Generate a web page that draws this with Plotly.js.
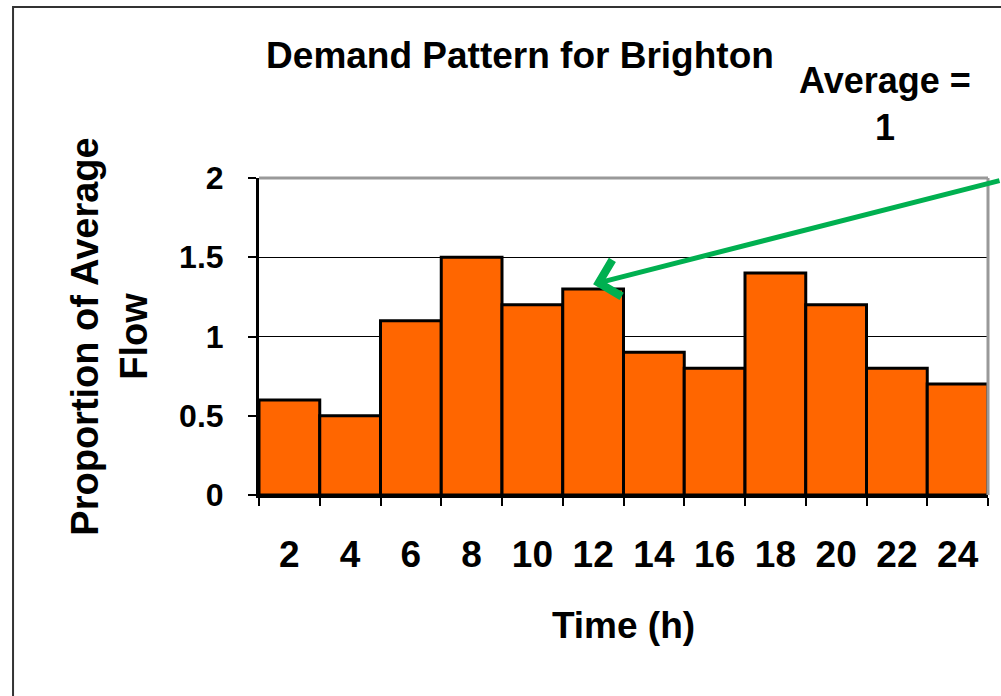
<!DOCTYPE html>
<html>
<head>
<meta charset="utf-8">
<script src="https://cdn.plot.ly/plotly-3.0.1.min.js"></script>
<style>
  html, body { margin: 0; padding: 0; background: #ffffff; }
  #chart { width: 1001px; height: 696px; }
</style>
</head>
<body>
<div id="chart"></div>
<script>
// Hourly demand pattern, two-hour blocks
const hours = ['2', '4', '6', '8', '10', '12', '14', '16', '18', '20', '22', '24'];
const proportion = [0.6, 0.5, 1.1, 1.5, 1.2, 1.3, 0.9, 0.8, 1.4, 1.2, 0.8, 0.7];
const yTicks = [0, 0.5, 1, 1.5, 2];
const yTickText = ['0', '0.5', '1', '1.5', '2'];

// The arrow points at the top of the noon block
const pointedHour = '12';
const pointedValue = 1.33;

const FONT = 'Liberation Sans, Arial, sans-serif';
const bold = (size) => ({ family: FONT, size: size, color: '#000000', weight: 'bold' });

const trace = {
  type: 'bar',
  x: hours,
  y: proportion,
  marker: { color: '#FF6600', line: { color: '#000000', width: 3 } },
  hoverinfo: 'x+y'
};

const layout = {
  width: 1001,
  height: 696,
  margin: { l: 259, r: 13, t: 178, b: 201, pad: 0 },
  paper_bgcolor: '#ffffff',
  plot_bgcolor: '#ffffff',
  showlegend: false,
  bargap: 0,
  title: {
    text: 'Demand Pattern for Brighton',
    font: bold(37),
    x: 0.358, xref: 'paper', xanchor: 'center',
    y: 0.921, yref: 'container', yanchor: 'middle'
  },
  xaxis: {
    type: 'category',
    range: [-0.5, 11.5],
    tickson: 'boundaries',
    ticks: 'outside', ticklen: 8, tickwidth: 2, tickcolor: '#000000',
    showline: true, linecolor: '#000000', linewidth: 3,
    showgrid: false, zeroline: false,
    tickfont: bold(37),
    ticklabelstandoff: 25,
    title: { text: 'Time (h)', font: bold(37), standoff: 38 },
    fixedrange: true
  },
  yaxis: {
    range: [0, 2],
    tickvals: yTicks,
    ticktext: yTickText,
    ticks: 'outside', ticklen: 8, tickwidth: 2, tickcolor: '#000000',
    showline: true, linecolor: '#000000', linewidth: 3,
    showgrid: true, gridcolor: '#000000', gridwidth: 1.5,
    zeroline: false,
    tickfont: bold(32),
    ticklabelstandoff: 18,
    title: { text: 'Proportion of Average<br>Flow', font: bold(38), standoff: 20 },
    fixedrange: true
  },
  shapes: [
    // grey frame along top and right of the plot area
    { type: 'line', xref: 'paper', yref: 'paper', x0: 0, x1: 1, y0: 1, y1: 1,
      line: { color: '#999999', width: 3 }, layer: 'above' },
    { type: 'line', xref: 'paper', yref: 'paper', x0: 1, x1: 1, y0: 0, y1: 1,
      line: { color: '#999999', width: 3 }, layer: 'above' },
    // outer chart border
    { type: 'rect', xref: 'paper', yref: 'paper',
      x0: -0.3374, x1: 1.06, y0: -0.70, y1: 1.5394,
      line: { color: '#333333', width: 2 }, fillcolor: 'rgba(0,0,0,0)', layer: 'below' }
  ],
  annotations: [
    {
      text: 'Average =<br>1',
      xref: 'paper', yref: 'paper',
      x: 0.859, y: 1.232, xanchor: 'center', yanchor: 'middle',
      showarrow: false, font: bold(36)
    },
    {
      text: '',
      x: hours.indexOf(pointedHour), y: pointedValue, xref: 'x', yref: 'y',
      showarrow: true, arrowhead: 4, arrowsize: 1.45, arrowwidth: 5,
      arrowcolor: '#00B050', ax: 410, ay: -104, standoff: 0
    }
  ]
};

Plotly.newPlot('chart', [trace], layout, { displayModeBar: false, staticPlot: true });
</script>
</body>
</html>
